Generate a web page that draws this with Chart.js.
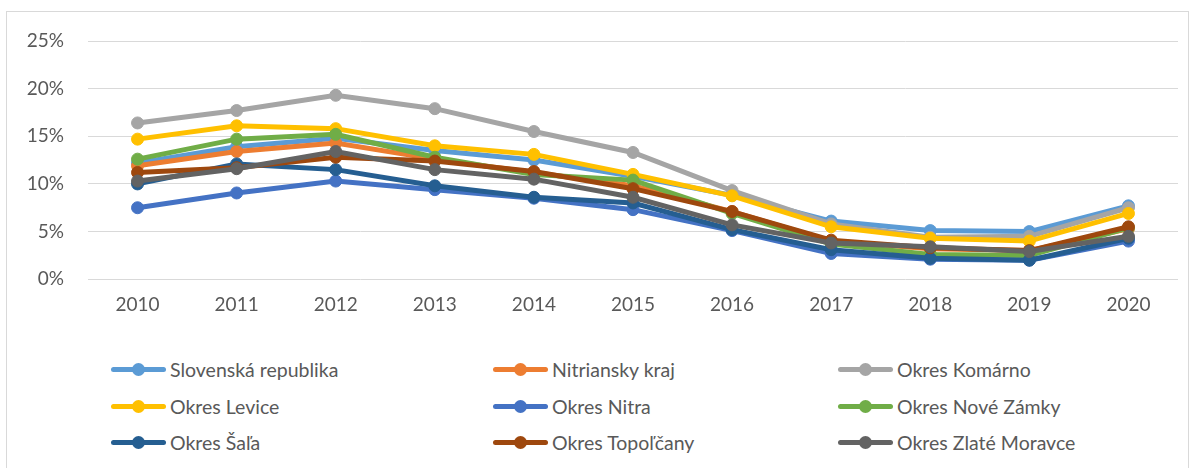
<!DOCTYPE html>
<html>
<head>
<meta charset="utf-8">
<script src="https://cdn.jsdelivr.net/npm/chart.js@4"></script>
<style>
  body { margin: 0; background: #fff; font-family: Lato, sans-serif; }
  #wrap { position: relative; width: 1195px; height: 468px; overflow: hidden; }
  #frame { position: absolute; left: 6px; top: 11px; width: 1183px; height: 470px; border: 1px solid #d9d9d9; box-sizing: border-box; }
  #chart { position: absolute; left: 0; top: 0; }
  .leg { position: absolute; height: 20px; display: flex; align-items: center; color: #595959; font-size: 19.5px; white-space: nowrap; }
  .leg .mk { position: relative; width: 55px; height: 5px; border-radius: 3px; margin-right: 4px; }
  .leg .mk i { position: absolute; left: 21px; top: -4px; width: 13px; height: 13px; border-radius: 50%; background: inherit; }
</style>
</head>
<body>
<div id="wrap">
  <div id="frame"></div>
  <canvas id="chart" width="1195" height="330"></canvas>
  <div id="legend"></div>
</div>
<script>
const years = ['2010', '2011', '2012', '2013', '2014', '2015', '2016', '2017', '2018', '2019', '2020'];
const names = ['Slovenská republika', 'Nitriansky kraj', 'Okres Komárno', 'Okres Levice', 'Okres Nitra',
               'Okres Nové Zámky', 'Okres Šaľa', 'Okres Topoľčany', 'Okres Zlaté Moravce'];
const colors = ['#5B9BD5', '#ED7D31', '#A5A5A5', '#FFC000', '#4472C4', '#70AD47', '#255E91', '#9E480E', '#636363'];

// nezamestnanost v %
const slovensko   = [12.2, 13.9, 14.8, 13.5, 12.5, 10.8, 8.8, 6.1, 5.1, 5.0, 7.7];
const nitrianskyKraj = [11.9, 13.4, 14.3, 12.6, 11.2, 9.8, 7.1, 4.0, 3.2, 3.0, 5.3];
const komarno     = [16.4, 17.7, 19.3, 17.9, 15.5, 13.3, 9.3, 5.8, 4.4, 4.5, 7.5];
const levice      = [14.7, 16.1, 15.8, 14.0, 13.1, 11.0, 8.75, 5.5, 4.3, 4.0, 6.9];
const nitra       = [7.5, 9.05, 10.3, 9.4, 8.5, 7.3, 5.1, 2.7, 2.1, 2.0, 4.0];
const noveZamky   = [12.6, 14.7, 15.2, 12.8, 11.0, 10.4, 6.9, 3.7, 2.6, 2.5, 5.4];
const sala        = [10.0, 12.1, 11.5, 9.8, 8.6, 8.0, 5.2, 3.1, 2.2, 2.0, 4.3];
const topolcany   = [11.2, 11.7, 12.8, 12.4, 11.3, 9.5, 7.1, 4.1, 3.3, 3.0, 5.5];
const zlateMoravce = [10.3, 11.6, 13.4, 11.5, 10.5, 8.6, 5.7, 3.8, 3.4, 2.9, 4.5];
const yTicks = [0, 5, 10, 15, 20, 25];

const series = [slovensko, nitrianskyKraj, komarno, levice, nitra, noveZamky, sala, topolcany, zlateMoravce];

const datasets = series.map((d, i) => ({
    label: names[i],
    data: d,
    borderColor: colors[i],
    backgroundColor: colors[i],
    pointBackgroundColor: colors[i],
    pointBorderColor: colors[i],
    borderWidth: 5,
    pointRadius: 6,
    pointBorderWidth: 1,
    tension: 0,
    order: series.length - i   // posledna seria navrchu ako v Exceli
}));

new Chart(document.getElementById('chart'), {
    type: 'line',
    data: { labels: years, datasets: datasets },
    options: {
        responsive: false,
        animation: false,
        layout: { padding: { left: 0, right: 17, top: 41, bottom: 0 } },
        plugins: { legend: { display: false }, tooltip: { enabled: false } },
        scales: {
            x: {
                offset: true,
                grid: { display: false, drawTicks: false },
                border: { display: false },
                ticks: { color: '#595959', font: { family: 'Lato', size: 19 }, padding: 14 }
            },
            y: {
                min: 0, max: 25,
                afterFit: s => { s.width = 88; },
                afterTickToLabelConversion: s => { s.ticks = yTicks.map(v => ({ value: v, label: v + '%' })); },
                grid: { color: '#d9d9d9', lineWidth: 1, drawTicks: false },
                border: { display: false },
                ticks: { stepSize: 5, color: '#595959', font: { family: 'Lato', size: 19 }, padding: 24 }
            }
        }
    }
});

// legenda v 3 stlpcoch ako v originali
const colX = [111, 493, 838];
const rowY = [359, 396, 432];
const leg = document.getElementById('legend');
names.forEach((n, i) => {
    const el = document.createElement('div');
    el.className = 'leg';
    el.style.left = colX[i % 3] + 'px';
    el.style.top = rowY[Math.floor(i / 3)] + 'px';
    el.innerHTML = `<span class="mk" style="background:${colors[i]}"><i></i></span>${n}`;
    leg.appendChild(el);
});
</script>
</body>
</html>
